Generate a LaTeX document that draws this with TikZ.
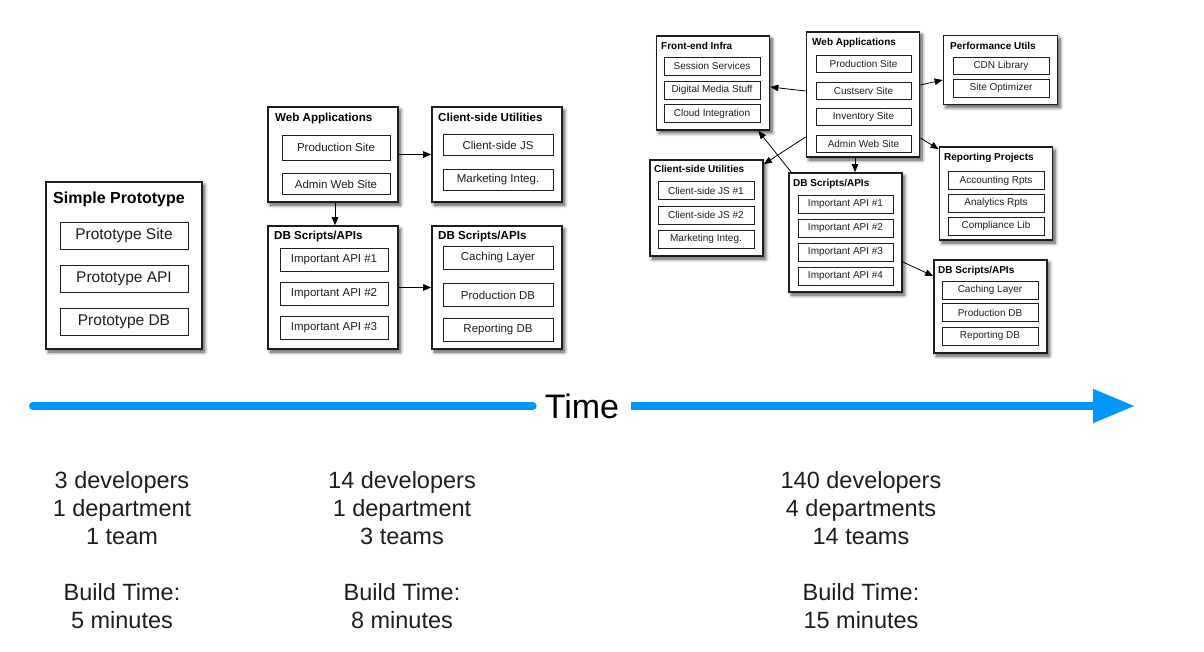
\documentclass[tikz,border=0pt]{standalone}
\usepackage{fontspec}
\setmainfont{Liberation Sans}
\usetikzlibrary{arrows.meta,shadows.blur}
\definecolor{timeblue}{RGB}{0,150,255}
\definecolor{ink}{RGB}{30,30,30}
\tikzset{
  outer/.style={draw=ink, line width=1.7pt, fill=white, inner sep=0pt,
    blur shadow={shadow xshift=2.5pt, shadow yshift=-3pt, shadow blur radius=3.5pt, shadow blur steps=8, shadow opacity=70}},
  inner/.style={draw=ink, line width=0.9pt, fill=white, inner sep=0pt, text=ink},
  ttlA/.style={anchor=base west, inner sep=0pt, font=\fontsize{16}{18}\selectfont\bfseries, text=black},
  ttlB/.style={anchor=base west, inner sep=0pt, font=\fontsize{11.6}{13}\selectfont\bfseries, text=black},
  ttlC/.style={anchor=base west, inner sep=0pt, font=\fontsize{10}{12}\selectfont\bfseries, text=black},
  txA/.style={inner, font=\fontsize{15.5}{17}\selectfont},
  txB/.style={inner, font=\fontsize{11.5}{13}\selectfont},
  txC/.style={inner, font=\fontsize{10}{12}\selectfont},
  arr/.style={draw=black, line width=0.8pt, -{Triangle[length=8pt,width=6.5pt]}},
  stat/.style={align=center, inner sep=0pt, font=\fontsize{23.5}{28}\selectfont, text=ink},
}
\begin{document}
\begin{tikzpicture}[x=1pt,y=-1pt]
\useasboundingbox (0,0) rectangle (1204,652);

% ---------- Simple prototype ----------
\node[outer, minimum width=156pt, minimum height=167pt] (sp) at (124,265.5) {};
\node[ttlA] (spt) at (53,204) {Simple Prototype};
\node[txA, minimum width=128pt, minimum height=27pt] (sp1) at (124,235.5) {Prototype Site};
\node[txA, minimum width=128pt, minimum height=27pt] (sp2) at (124,278.5) {Prototype API};
\node[txA, minimum width=128pt, minimum height=27pt] (sp3) at (124,321.5) {Prototype DB};

% ---------- Middle ----------
\node[outer, minimum width=130pt, minimum height=95pt] (wa) at (333,154.5) {};
\node[ttlB] (wat) at (275,122) {Web Applications};
\node[txB, minimum width=108pt, minimum height=25pt] (wa1) at (336,147.5) {Production Site};
\node[txB, minimum width=108pt, minimum height=21pt] (wa2i) at (336,184) {Admin Web Site};

\node[outer, minimum width=130pt, minimum height=95pt] (cu) at (497,154.5) {};
\node[ttlB] (cut) at (438,122) {Client-side Utilities};
\node[txB, minimum width=110pt, minimum height=21pt] (cu1) at (498,145) {Client-side JS};
\node[txB, minimum width=110pt, minimum height=21pt] (cu2i) at (498,179.5) {Marketing Integ.};

\node[outer, minimum width=130pt, minimum height=123pt] (db1) at (333,287.5) {};
\node[ttlB] (db1t) at (274,240) {DB Scripts/APIs};
\node[txB, minimum width=108pt, minimum height=23pt] (db1a) at (334,260) {Important API \#1};
\node[txB, minimum width=108pt, minimum height=23pt] (db1b) at (334,294) {Important API \#2};
\node[txB, minimum width=108pt, minimum height=23pt] (db1c) at (334,328) {Important API \#3};

\node[outer, minimum width=130pt, minimum height=123pt] (db2) at (497,287.5) {};
\node[ttlB] (db2t) at (438,240) {DB Scripts/APIs};
\node[txB, minimum width=110pt, minimum height=23pt] (db2a) at (498,258) {Caching Layer};
\node[txB, minimum width=110pt, minimum height=23pt] (db2b) at (498,295) {Production DB};
\node[txB, minimum width=110pt, minimum height=23pt] (db2c) at (498,330) {Reporting DB};

\draw[arr] (wa.east) -- (wa.east -| cu.west);
\draw[arr] ([xshift=2pt]wa.south) -- ([xshift=2pt]wa.south |- db1.north);
\draw[arr] (db1.east) -- (db1.east -| db2.west);

% ---------- Right ----------
\node[outer, minimum width=113pt, minimum height=94pt] (fe) at (713,83) {};
\node[ttlC] (fet) at (661,50) {Front-end Infra};
\node[txC, minimum width=96pt, minimum height=18pt] (fe1) at (712,66) {Session Services};
\node[txC, minimum width=96pt, minimum height=18pt] (fe2) at (712,90) {Digital Media Stuff};
\node[txC, minimum width=96pt, minimum height=18pt] (fe3) at (712,113.5) {Cloud Integration};

\node[outer, minimum width=113pt, minimum height=125pt] (wb) at (863,94.5) {};
\node[ttlC] (wbt) at (812,46) {Web Applications};
\node[txC, minimum width=95pt, minimum height=17pt] (wb1) at (863.5,63.5) {Production Site};
\node[txC, minimum width=95pt, minimum height=17pt] (wb2) at (863.5,90.5) {Custserv Site};
\node[txC, minimum width=95pt, minimum height=17pt] (wb3) at (863.5,117) {Inventory Site};
\node[txC, minimum width=95pt, minimum height=17pt] (wb4) at (863.5,143.5) {Admin Web Site};

\node[outer, minimum width=114pt, minimum height=69pt] (pu) at (1000.5,70) {};
\node[ttlC] (put) at (950,50) {Performance Utils};
\node[txC, minimum width=96pt, minimum height=17pt] (pu1) at (1001,65.5) {CDN Library};
\node[txC, minimum width=96pt, minimum height=18pt] (pu2) at (1001,88) {Site Optimizer};

\node[outer, minimum width=113pt, minimum height=93pt] (rp) at (996,193.5) {};
\node[ttlC] (rpt) at (944,161) {Reporting Projects};
\node[txC, minimum width=96pt, minimum height=18pt] (rp1) at (996,180.5) {Accounting Rpts};
\node[txC, minimum width=96pt, minimum height=18pt] (rp2) at (996,203) {Analytics Rpts};
\node[txC, minimum width=96pt, minimum height=18pt] (rp3) at (996,226) {Compliance Lib};

\node[outer, minimum width=113pt, minimum height=96pt] (cc) at (706.5,208) {};
\node[ttlC] (cct) at (654,173) {Client-side Utilities};
\node[txC, minimum width=96pt, minimum height=18pt] (cc1) at (706,190.5) {Client-side JS \#1};
\node[txC, minimum width=96pt, minimum height=18pt] (cc2) at (706,215) {Client-side JS \#2};
\node[txC, minimum width=96pt, minimum height=18pt] (cc3) at (706,239) {Marketing Integ.};

\node[outer, minimum width=113pt, minimum height=119pt] (db3) at (845.5,232.5) {};
\node[ttlC] (db3t) at (793,187) {DB Scripts/APIs};
\node[txC, minimum width=95pt, minimum height=18pt] (db3a) at (845.5,204) {Important API \#1};
\node[txC, minimum width=95pt, minimum height=18pt] (db3b) at (845.5,228) {Important API \#2};
\node[txC, minimum width=95pt, minimum height=18pt] (db3c) at (845.5,252) {Important API \#3};
\node[txC, minimum width=95pt, minimum height=18pt] (db3d) at (845.5,276) {Important API \#4};

\node[outer, minimum width=113pt, minimum height=93pt] (db4) at (990.5,306.5) {};
\node[ttlC] (db4t) at (938,273) {DB Scripts/APIs};
\node[txC, minimum width=96pt, minimum height=18pt] (db4a) at (990,290) {Caching Layer};
\node[txC, minimum width=96pt, minimum height=18pt] (db4b) at (990,312.5) {Production DB};
\node[txC, minimum width=96pt, minimum height=18pt] (db4c) at (990,336) {Reporting DB};

\draw[arr] ([yshift=3.5pt]wb.west) -- ([yshift=-4pt]fe.east);
\draw[arr] ([yshift=9.5pt]wb.east) -- ([yshift=-10pt]pu.west);
\draw[arr] ([yshift=-43.5pt]wb.east) -- ([yshift=-3pt]rp.north west);
\draw[arr] ([yshift=-42.5pt]wb.west) -- ([yshift=-5pt]cc.north east);
\draw[arr] ([xshift=-8pt]wb.south) -- ([xshift=-8pt]wb.south |- db3.north);
\draw[arr] ([xshift=3pt]db3.north west) -- ([xshift=-12pt]fe.south east);
\draw[arr] ([yshift=-29.5pt]db3.east) -- ([yshift=30.5pt]db4.west);

% ---------- Time arrow ----------
\node[inner sep=0pt, font=\fontsize{34}{36}\selectfont, text=black] (time) at (582,406) {Time};
\coordinate (tstart) at (33,406);
\coordinate (tend) at (1135,406);
\draw[timeblue, line width=8pt, line cap=round] (tstart) -- ([xshift=-12pt]time.west);
\draw[timeblue, line width=8pt, -{Triangle[length=42pt,width=32pt]}] ([xshift=12pt]time.east) -- (tend);

% ---------- Stats ----------
\node[stat] (s1) at (122,508) {3 developers\\1 department\\1 team};
\node[stat] (b1) at (122,606) {Build Time:\\5 minutes};
\node[stat] (s2) at (402,508) {14 developers\\1 department\\3 teams};
\node[stat] (b2) at (402,606) {Build Time:\\8 minutes};
\node[stat] (s3) at (861,508) {140 developers\\4 departments\\14 teams};
\node[stat] (b3) at (861,606) {Build Time:\\15 minutes};
\end{tikzpicture}
\end{document}
